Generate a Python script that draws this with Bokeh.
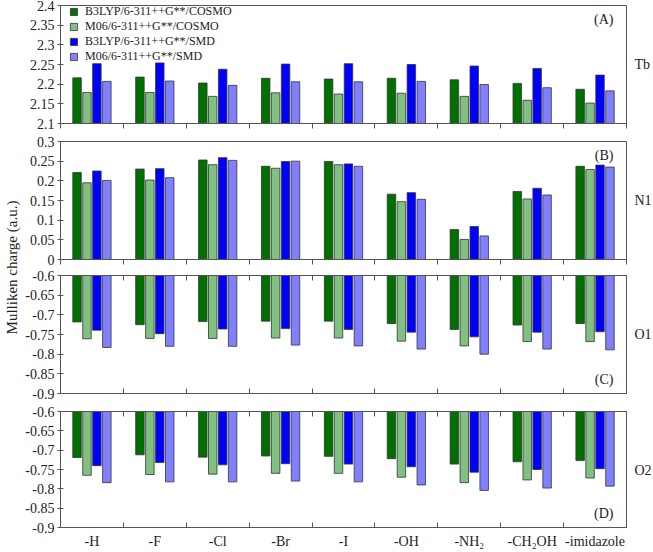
import math
from bokeh.plotting import figure
from bokeh.models import (ColumnDataSource, Range1d, FixedTicker, LinearAxis,
                          NumeralTickFormatter, Label, Legend, LegendItem)
from bokeh.layouts import row, column
from bokeh.transform import dodge
from bokeh.embed import file_html
from bokeh.resources import INLINE

# ---------------- data ----------------
categories = ["-H", "-F", "-Cl", "-Br", "-I", "-OH", "-NH\u2082", "-CH\u2082OH", "-imidazole"]
series = ["B3LYP/6-311++G**/COSMO", "M06/6-311++G**/COSMO",
          "B3LYP/6-311++G**/SMD", "M06/6-311++G**/SMD"]

tb_b3lyp_cosmo = [2.216, 2.218, 2.203, 2.215, 2.213, 2.215, 2.211, 2.202, 2.187]
tb_m06_cosmo = [2.179, 2.179, 2.169, 2.178, 2.175, 2.177, 2.169, 2.159, 2.152]
tb_b3lyp_smd = [2.252, 2.254, 2.238, 2.251, 2.252, 2.250, 2.246, 2.240, 2.223]
tb_m06_smd = [2.207, 2.208, 2.197, 2.206, 2.206, 2.207, 2.199, 2.191, 2.183]

n1_b3lyp_cosmo = [0.221, 0.230, 0.253, 0.237, 0.249, 0.166, 0.076, 0.173, 0.237]
n1_m06_cosmo = [0.195, 0.202, 0.241, 0.232, 0.241, 0.147, 0.051, 0.154, 0.229]
n1_b3lyp_smd = [0.225, 0.231, 0.259, 0.249, 0.243, 0.170, 0.084, 0.181, 0.240]
n1_m06_smd = [0.201, 0.208, 0.252, 0.250, 0.237, 0.153, 0.060, 0.164, 0.235]

o1_b3lyp_cosmo = [-0.718, -0.725, -0.717, -0.716, -0.716, -0.722, -0.737, -0.726, -0.722]
o1_m06_cosmo = [-0.761, -0.760, -0.760, -0.759, -0.759, -0.767, -0.779, -0.768, -0.768]
o1_b3lyp_smd = [-0.739, -0.748, -0.736, -0.735, -0.737, -0.744, -0.756, -0.744, -0.743]
o1_m06_smd = [-0.783, -0.780, -0.780, -0.777, -0.779, -0.787, -0.800, -0.787, -0.789]

o2_b3lyp_cosmo = [-0.719, -0.712, -0.718, -0.715, -0.716, -0.722, -0.736, -0.730, -0.727]
o2_m06_cosmo = [-0.765, -0.763, -0.762, -0.760, -0.760, -0.770, -0.784, -0.777, -0.772]
o2_b3lyp_smd = [-0.740, -0.732, -0.738, -0.735, -0.736, -0.743, -0.757, -0.750, -0.748]
o2_m06_smd = [-0.784, -0.782, -0.782, -0.780, -0.782, -0.790, -0.804, -0.798, -0.793]

tb_ticks = [2.1, 2.15, 2.2, 2.25, 2.3, 2.35, 2.4]
n1_ticks = [0, 0.05, 0.1, 0.15, 0.2, 0.25, 0.3]
o_ticks = [-0.9, -0.85, -0.8, -0.75, -0.7, -0.65, -0.6]

atoms = ["Tb", "N1", "O1", "O2"]
letters = ["A", "B", "C", "D"]

# ---------------- style ----------------
FONT = "Liberation Serif"
colors = ["#007000", "#80c080", "#0000ff", "#8080ff"]
offsets = [-0.237, -0.079, 0.079, 0.237]
BAR_W = 0.135
FW, FH = 566, 118
LEFT_B, RIGHT_B = 38, 4
TITLE_W, SIDE_W = 22, 22
AX = "#555555"
TXT = "#222222"

centers = [i + 0.5 for i in range(len(categories))]
bounds = list(range(len(categories) + 1))

# borders (top, bottom) of each panel
borders = [(5, 9), (9, 8), (8, 9), (9, 22)]


def make_panel(letter, lo, hi, yticks, vals, hanging, top_b, bot_b,
               show_labels, legend=False):
    p = figure(width=LEFT_B + FW + RIGHT_B, height=top_b + FH + bot_b,
               x_range=Range1d(0, len(categories)), y_range=Range1d(lo, hi),
               output_backend="svg", toolbar_location=None,
               x_axis_location=None, y_axis_location=None,
               min_border_left=LEFT_B, min_border_right=RIGHT_B,
               min_border_top=top_b, min_border_bottom=bot_b)
    p.xgrid.visible = False
    p.ygrid.visible = False
    p.outline_line_color = AX
    p.background_fill_color = "white"
    p.border_fill_color = "white"

    # y axis
    yax = LinearAxis(ticker=FixedTicker(ticks=yticks),
                     formatter=NumeralTickFormatter(format="0.[00]"))
    yax.major_tick_in = 3
    yax.major_tick_out = 3
    yax.minor_tick_line_color = None
    yax.major_label_standoff = 3
    yax.major_label_text_font = FONT
    yax.major_label_text_font_size = "14px"
    yax.major_label_text_color = TXT
    yax.axis_line_color = AX
    yax.major_tick_line_color = AX
    p.add_layout(yax, "left")

    # x axis: labels at category centres, ticks at category boundaries
    if show_labels:
        xax = LinearAxis(ticker=FixedTicker(ticks=centers, minor_ticks=bounds),
                         major_label_overrides={c: t for c, t in zip(centers, categories)})
        xax.major_label_text_font_size = "14px"
        xax.major_label_standoff = 6
    else:
        xax = LinearAxis(ticker=FixedTicker(ticks=[], minor_ticks=bounds))
        xax.major_label_standoff = 0
    xax.major_tick_line_color = None
    xax.major_tick_in = 0
    xax.major_tick_out = 0
    xax.axis_line_color = AX
    xax.minor_tick_line_color = AX
    if hanging:
        xax.minor_tick_in = 5
        xax.minor_tick_out = 0
    else:
        xax.minor_tick_in = 0
        xax.minor_tick_out = 5
    xax.major_label_text_font = FONT
    xax.major_label_text_color = TXT
    p.add_layout(xax, "below")

    if hanging:
        tax = LinearAxis(ticker=FixedTicker(ticks=[], minor_ticks=bounds))
        tax.major_tick_line_color = None
        tax.major_tick_in = 0
        tax.major_tick_out = 0
        tax.minor_tick_in = 5
        tax.minor_tick_out = 0
        tax.minor_tick_line_color = AX
        tax.axis_line_color = AX
        tax.major_label_standoff = 0
        p.add_layout(tax, "above")

    data = {"x": centers}
    for i, v in enumerate(vals):
        data[f"s{i}"] = v
    src = ColumnDataSource(data)

    renderers = []
    for i in range(4):
        if hanging:
            r = p.vbar(x=dodge("x", offsets[i]), width=BAR_W, top=hi, bottom=f"s{i}",
                       source=src, fill_color=colors[i], line_color="#333333",
                       line_width=0.8)
        else:
            r = p.vbar(x=dodge("x", offsets[i]), width=BAR_W, top=f"s{i}", bottom=lo,
                       source=src, fill_color=colors[i], line_color="#333333",
                       line_width=0.8)
        renderers.append(r)

    if legend:
        lg = Legend(items=[LegendItem(label=s, renderers=[r]) for s, r in zip(series, renderers)],
                    location=(9, FH - 59))
        lg.label_text_font = FONT
        lg.label_text_font_size = "12px"
        lg.label_text_color = TXT
        lg.glyph_width = 9
        lg.glyph_height = 9
        lg.label_height = 13
        lg.label_standoff = 7
        lg.spacing = -1
        lg.padding = 2
        lg.margin = 0
        lg.border_line_color = None
        lg.background_fill_alpha = 0
        p.add_layout(lg)

    # panel letter
    if hanging:
        p.add_layout(Label(x=len(categories), y=lo, x_offset=-13, y_offset=7,
                           text=f"({letter})", text_align="right", text_baseline="bottom",
                           text_font=FONT, text_font_size="14px", text_color=TXT))
    else:
        p.add_layout(Label(x=len(categories), y=hi, x_offset=-13, y_offset=-6,
                           text=f"({letter})", text_align="right", text_baseline="top",
                           text_font=FONT, text_font_size="14px", text_color=TXT))
    return p


panel_vals = [
    [tb_b3lyp_cosmo, tb_m06_cosmo, tb_b3lyp_smd, tb_m06_smd],
    [n1_b3lyp_cosmo, n1_m06_cosmo, n1_b3lyp_smd, n1_m06_smd],
    [o1_b3lyp_cosmo, o1_m06_cosmo, o1_b3lyp_smd, o1_m06_smd],
    [o2_b3lyp_cosmo, o2_m06_cosmo, o2_b3lyp_smd, o2_m06_smd],
]
panel_ranges = [(2.1, 2.4, tb_ticks), (0, 0.3, n1_ticks), (-0.9, -0.6, o_ticks), (-0.9, -0.6, o_ticks)]
hangs = [False, False, True, True]

panels = []
for k in range(4):
    lo, hi, tk = panel_ranges[k]
    panels.append(make_panel(letters[k], lo, hi, tk, panel_vals[k], hangs[k],
                             borders[k][0], borders[k][1], k == 3, legend=(k == 0)))

total_h = sum(t + FH + b for t, b in borders)

# frame centres (from the top of the layout)
centres_y = []
acc = 0
for t, b in borders:
    centres_y.append(acc + t + FH / 2)
    acc += t + FH + b
gap_mid = borders[0][0] + FH + borders[0][1] + borders[1][0] + FH + (borders[1][1] + borders[2][0]) / 2

# left title
tfig = figure(width=TITLE_W, height=total_h, x_range=Range1d(0, TITLE_W),
              y_range=Range1d(total_h, 0),
              output_backend="svg", toolbar_location=None,
              x_axis_location=None, y_axis_location=None, min_border=0)
tfig.outline_line_color = None
tfig.xgrid.visible = False
tfig.ygrid.visible = False
tfig.add_layout(Label(x=TITLE_W / 2, y=gap_mid, angle=math.pi / 2,
                      text="Mulliken charge (a.u.)", text_align="center",
                      text_baseline="middle", text_font=FONT,
                      text_font_size="15px", text_color=TXT))

# right atom labels
sfig = figure(width=SIDE_W, height=total_h, x_range=Range1d(0, SIDE_W),
              y_range=Range1d(total_h, 0),
              output_backend="svg", toolbar_location=None,
              x_axis_location=None, y_axis_location=None, min_border=0)
sfig.outline_line_color = None
sfig.xgrid.visible = False
sfig.ygrid.visible = False
for a, cy in zip(atoms, centres_y):
    sfig.add_layout(Label(x=4, y=cy, text=a, text_align="left", text_baseline="middle",
                          text_font=FONT, text_font_size="14px", text_color=TXT))

layout = row(tfig, column(*panels, spacing=0), sfig, spacing=0)

open("out.html", "w").write(file_html(layout, INLINE))
